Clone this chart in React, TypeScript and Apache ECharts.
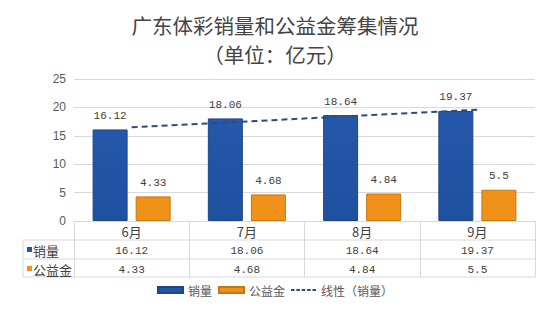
import React, { useEffect, useRef } from "react";
import * as echarts from "echarts";

const months = ["6月", "7月", "8月", "9月"];
const sales = [16.12, 18.06, 18.64, 19.37];
const fund = [4.33, 4.68, 4.84, 5.5];
const trend = [16.5, 17.53, 18.56, 19.6];
const yTicks = [0, 5, 10, 15, 20, 25];

const BLUE = "#2256a8";
const ORANGE = "#f0921a";
const GRID = "#d9d9d9";
const TEXT = "#404040";
const MONO = "'Liberation Mono', 'DejaVu Sans Mono', monospace";
const CJK = "'Noto Sans CJK SC', sans-serif";
const DASH_ICON =
  "path://M0,0h4v2h-4z M6,0h4v2h-4z M12,0h4v2h-4z M18,0h4v2h-4z M24,0h4v2h-4z";

export default function App() {
  const ref = useRef<HTMLDivElement>(null);
  useEffect(() => {
    if (!ref.current) return;
    const chart = echarts.init(ref.current, null, { renderer: "svg" });
    const fmt = (v: number) => String(v);
    const titleStyle = {
      fontSize: 20.5,
      lineHeight: 23,
      fontWeight: "normal",
      color: "#444444",
      fontFamily: CJK,
    };
    chart.setOption({
      animation: false,
      backgroundColor: "#ffffff",
      title: [
        { text: "广东体彩销量和公益金筹集情况", left: "center", top: 13, padding: 0, textStyle: titleStyle },
        { text: "（单位：亿元）", left: "center", top: 42, padding: 0, textStyle: titleStyle },
      ],
      grid: { left: 74, right: 15, top: 79, bottom: 100 },
      legend: {
        bottom: 20,
        left: "center",
        itemWidth: 25,
        itemHeight: 6,
        itemGap: 6,
        textStyle: { fontSize: 12, color: "#595959", fontFamily: CJK },
        data: [
          { name: "销量", icon: "rect" },
          { name: "公益金", icon: "rect" },
          { name: "线性（销量）", icon: DASH_ICON },
        ],
      },
      xAxis: {
        type: "category",
        data: months,
        axisLine: { show: true, lineStyle: { color: GRID } },
        axisTick: { show: true, length: 56, lineStyle: { color: GRID } },
        axisLabel: {
          margin: 1,
          interval: 0,
          formatter: (value: string, idx: number) =>
            `{m|${value}}\n{v|${fmt(sales[idx])}}\n{v|${fmt(fund[idx])}}`,
          rich: {
            m: { fontSize: 13, lineHeight: 19, color: TEXT, fontFamily: CJK },
            v: { fontSize: 11, lineHeight: 19, color: TEXT, fontFamily: MONO },
          },
        },
      },
      yAxis: {
        type: "value",
        min: yTicks[0],
        max: yTicks[yTicks.length - 1],
        interval: 5,
        axisLine: { show: false },
        axisTick: { show: false },
        axisLabel: { fontSize: 12, color: "#595959", margin: 8, fontFamily: "'Liberation Sans', sans-serif" },
        splitLine: { lineStyle: { color: GRID } },
      },
      series: [
        {
          name: "销量",
          type: "bar",
          data: sales,
          barWidth: 35,
          barGap: "23%",
          itemStyle: {
            color: new echarts.graphic.LinearGradient(0, 0, 0, 1, [
              { offset: 0, color: "#2558aa" },
              { offset: 1, color: "#1f50a0" },
            ]),
            borderColor: "#1d4689",
            borderWidth: 1,
          },
          label: {
            show: true,
            position: "top",
            distance: 8,
            fontSize: 11,
            color: TEXT,
            fontFamily: MONO,
          },
        },
        {
          name: "公益金",
          type: "bar",
          data: fund,
          barWidth: 35,
          itemStyle: { color: ORANGE, borderColor: "#c87612", borderWidth: 1 },
          label: {
            show: true,
            position: "top",
            distance: 8,
            fontSize: 11,
            color: TEXT,
            fontFamily: MONO,
          },
        },
        {
          name: "线性（销量）",
          type: "line",
          data: trend,
          symbol: "none",
          showSymbol: false,
          z: 5,
          lineStyle: { color: "#2e4d7b", width: 2, type: [6, 4] },
          itemStyle: { color: "#2e4d7b" },
        },
      ],
      graphic: [
        { type: "line", shape: { x1: 23, y1: 240, x2: 535, y2: 240 }, style: { stroke: GRID, lineWidth: 1 } },
        { type: "line", shape: { x1: 23, y1: 259, x2: 535, y2: 259 }, style: { stroke: GRID, lineWidth: 1 } },
        { type: "line", shape: { x1: 23, y1: 277, x2: 535, y2: 277 }, style: { stroke: GRID, lineWidth: 1 } },
        { type: "line", shape: { x1: 23, y1: 240, x2: 23, y2: 277 }, style: { stroke: GRID, lineWidth: 1 } },
        { type: "rect", shape: { x: 27, y: 247, width: 5, height: 5 }, style: { fill: BLUE } },
        { type: "rect", shape: { x: 27, y: 266, width: 5, height: 5 }, style: { fill: ORANGE } },
        {
          type: "text",
          x: 33,
          y: 250,
          style: { text: "销量", fontSize: 13, fill: TEXT, fontFamily: CJK, verticalAlign: "middle" },
        },
        {
          type: "text",
          x: 33,
          y: 269,
          style: { text: "公益金", fontSize: 13, fill: TEXT, fontFamily: CJK, verticalAlign: "middle" },
        },
      ],
    });
    return () => chart.dispose();
  }, []);
  return <div ref={ref} style={{ width: 550, height: 321, position: "absolute", left: 0, top: 0 }} />;
}
